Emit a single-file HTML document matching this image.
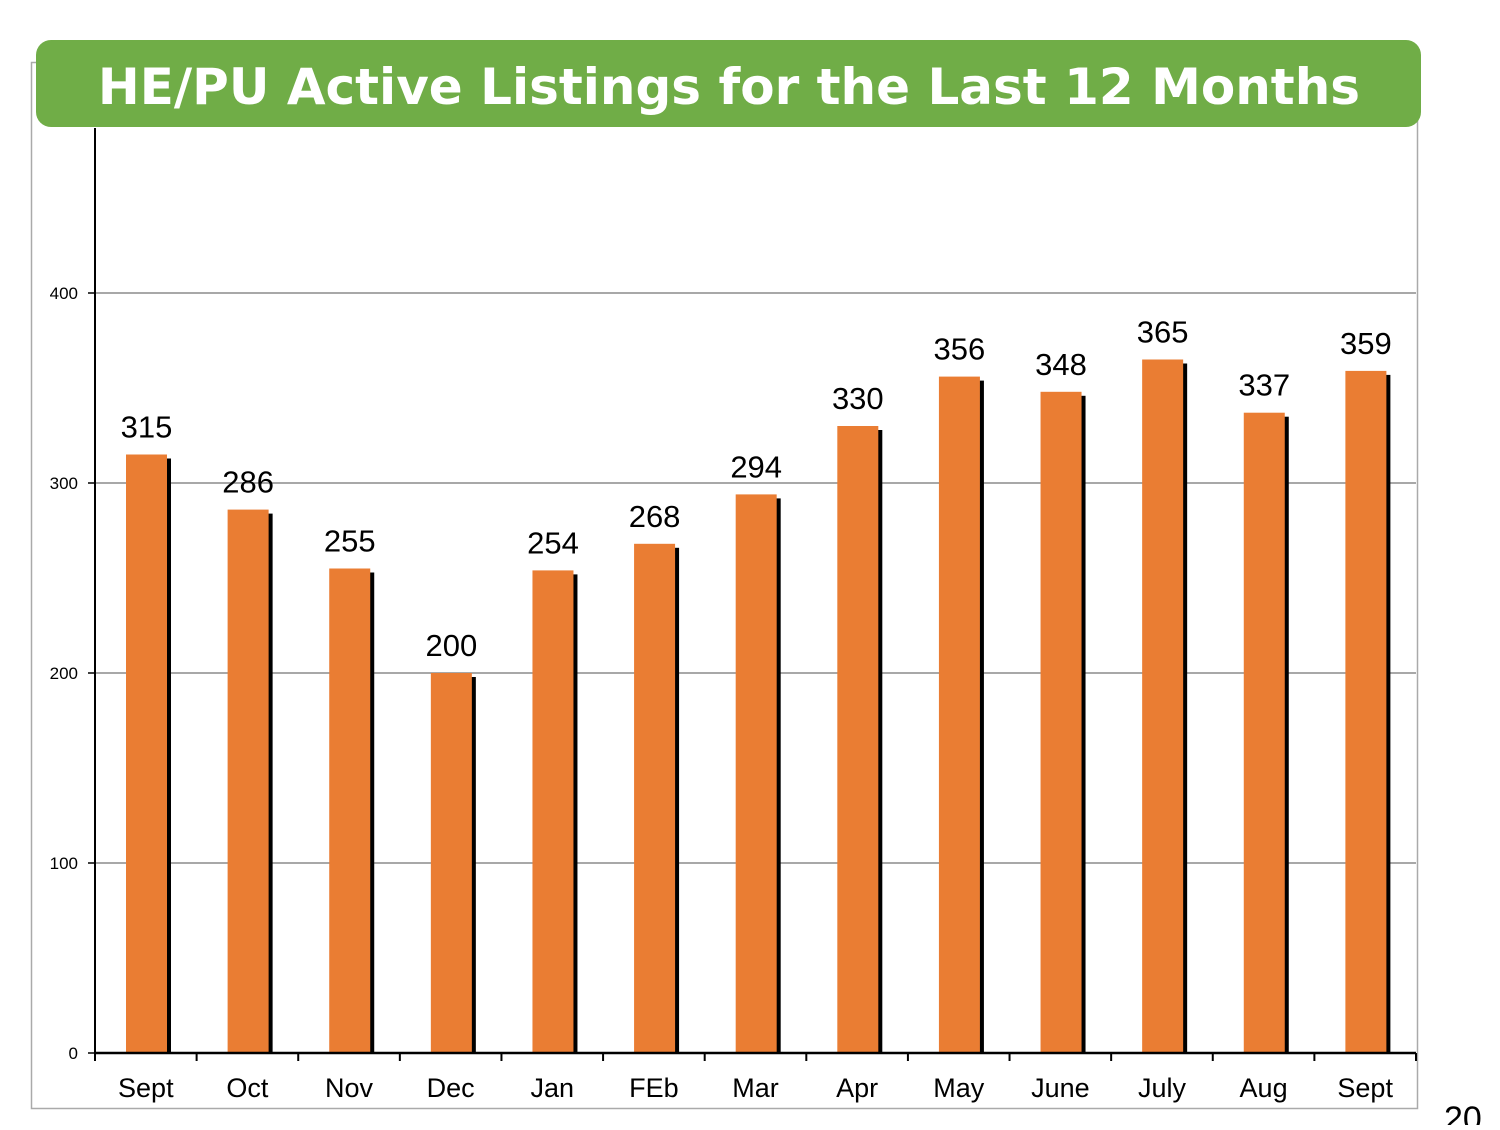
<!DOCTYPE html>
<html><head><meta charset="utf-8"><style>
body{margin:0;width:1500px;height:1125px;background:#fff;overflow:hidden;font-family:"Liberation Sans",sans-serif}
</style></head><body>
<svg width="1500" height="1125" xmlns="http://www.w3.org/2000/svg">
<rect x="31.5" y="62.5" width="1386" height="1046" fill="none" stroke="#aaa" stroke-width="1.5"/>
<g id="grid"></g>
<g id="bars"></g>
<g id="axes"></g>
<rect x="36" y="40" width="1385" height="87" rx="15" fill="#70ad47"/>
<text x="729" y="104" text-anchor="middle" fill="#fff" font-size="50" font-weight="bold" font-family="DejaVu Sans, Liberation Sans, sans-serif">HE/PU Active Listings for the Last 12 Months</text>
<text x="1444" y="1130" font-size="34" fill="#000">20</text>
</svg>
<script>
const categories=["Sept","Oct","Nov","Dec","Jan","FEb","Mar","Apr","May","June","July","Aug","Sept"];
const values=[315,286,255,200,254,268,294,330,356,348,365,337,359];
const yTicks=[0,100,200,300,400];
const NS="http://www.w3.org/2000/svg";
const x0=95,x1=1416,y0=1053,pxPer=1.9;
const step=(x1-x0)/categories.length;
const y=v=>y0-v*pxPer;
function mk(t,a,p){const e=document.createElementNS(NS,t);for(const k in a)e.setAttribute(k,a[k]);p.appendChild(e);return e;}
const grid=document.getElementById('grid'),bars=document.getElementById('bars'),axes=document.getElementById('axes');
yTicks.forEach(v=>{
  if(v>0){const l=mk('line',{x1:x0,x2:x1,y1:y(v),y2:y(v),stroke:'#8c8c8c','stroke-width':1.5},grid);
  
  }
  const tk=mk('line',{x1:x0-7,x2:x0,y1:y(v),y2:y(v),stroke:'#000','stroke-width':1.5},axes);
  
  
  const t=mk('text',{x:78,y:y(v)+6,'text-anchor':'end','font-size':17},axes);t.textContent=v;
  
  
});
values.forEach((v,i)=>{
  const bx=x0+i*step+31,bw=41;
  const s=mk('rect',{x:bx+4,y:y(v)+4,width:bw,height:v*pxPer-4,fill:'#000'},bars);
  
  
  const b=mk('rect',{x:bx,y:y(v),width:bw,height:v*pxPer,fill:'#ea7d33'},bars);
  
  
  const t=mk('text',{x:bx+bw/2,y:y(v)-17,'text-anchor':'middle','font-size':31},bars);t.textContent=v;
  
  
  const c=mk('text',{x:x0+(i+0.5)*step,y:1097,'text-anchor':'middle','font-size':27},axes);c.textContent=categories[i];
  
  
});
for(let i=0;i<=categories.length;i++){
  const tk=mk('line',{x1:x0+i*step,x2:x0+i*step,y1:y0,y2:y0+8,stroke:'#000','stroke-width':2},axes);
  
  
}
const ya=mk('line',{x1:x0,x2:x0,y1:128,y2:y0,stroke:'#000','stroke-width':2},axes);


const xa=mk('line',{x1:x0,x2:x1,y1:y0,y2:y0,stroke:'#000','stroke-width':2.5},axes);


</script>
</body></html>
